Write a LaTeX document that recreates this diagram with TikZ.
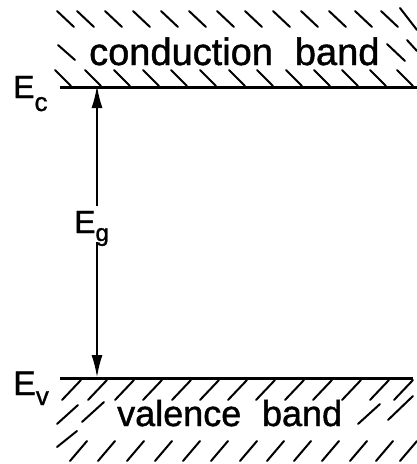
\documentclass[tikz,border=0pt]{standalone}
\usepackage{fontspec}
\setmainfont{Liberation Sans}[FakeBold=1.2]
\usetikzlibrary{arrows.meta}
\begin{document}
\begin{tikzpicture}[x=1pt,y=-1pt,
  band/.style={line width=3pt,line cap=butt},
  hatch/.style={line width=2pt,line cap=round},
  gap/.style={line width=1.5pt,-{Latex[length=22pt,width=11pt]}},
  lbl/.style={inner sep=0pt,anchor=base west}]
\useasboundingbox (0,0) rectangle (417,464);
% band edges
\coordinate (cL) at (60,87);
\coordinate (cR) at (417,87);
\coordinate (vL) at (60,378);
\coordinate (vR) at (413,378);
\draw[band] (cL) -- (cR);
\draw[band] (vL) -- (vR);
% conduction band hatching
\foreach \x in {57,77,105,133,161,189,217,245,273,301,329,355,381}
  \draw[hatch] (\x,11) -- ++(17,16);
\draw[hatch] (400,8) -- (417,30);
\draw[hatch] (58,45) -- ++(17,15);
\draw[hatch] (387,44) -- ++(18,17);
\draw[hatch] (407,40) -- (417,51);
\foreach \x in {55,85,114,143,171,200,229,257,286,314,342,370,397}
  \draw[hatch] (\x,70) -- ++(16,16);
% valence band hatching
\foreach \x in {62,88,115,143,172,200,228,256,285,313,342,370,394}
  \draw[hatch] (\x,400) -- ++(19,-20);
\draw[hatch] (57,424) -- ++(21,-19);
\draw[hatch] (82,422) -- ++(22,-20);
\draw[hatch] (358,424) -- ++(22,-20);
\draw[hatch] (388,420) -- ++(25,-24);
\draw[hatch] (57,447) -- ++(20,-16);
\foreach \x in {70,98,127,155,183,211,240,267,294,322,350,376,400}
  \draw[hatch] (\x,461) -- ++(17,-20);
% labels
\node[lbl] (cb) at (89,65) {\fontsize{38}{38}\selectfont conduction\hspace{0.3em} band};
\node[lbl] (vb) at (117,426) {\fontsize{36}{36}\selectfont valence\hspace{0.3em} band};
\node[lbl] (Ec) at (13,98) {\fontsize{32}{32}\selectfont E\raisebox{-13pt}{\fontsize{26}{26}\selectfont c}};
\node[lbl] (Ev) at (13,395) {\fontsize{34}{34}\selectfont E\raisebox{-10pt}{\fontsize{26}{26}\selectfont v}};
\node[lbl] (Eg) at (74,233) {\fontsize{32}{32}\selectfont E\raisebox{-8pt}{\fontsize{24}{24}\selectfont g}};
% energy gap arrow
\coordinate (gt) at (97,206);
\coordinate (gb) at (97,242);
\coordinate (at) at (97,86);
\coordinate (ab) at (97,377);
\draw[gap] (gt) -- (at);
\draw[gap] (gb) -- (ab);
\end{tikzpicture}
\end{document}
